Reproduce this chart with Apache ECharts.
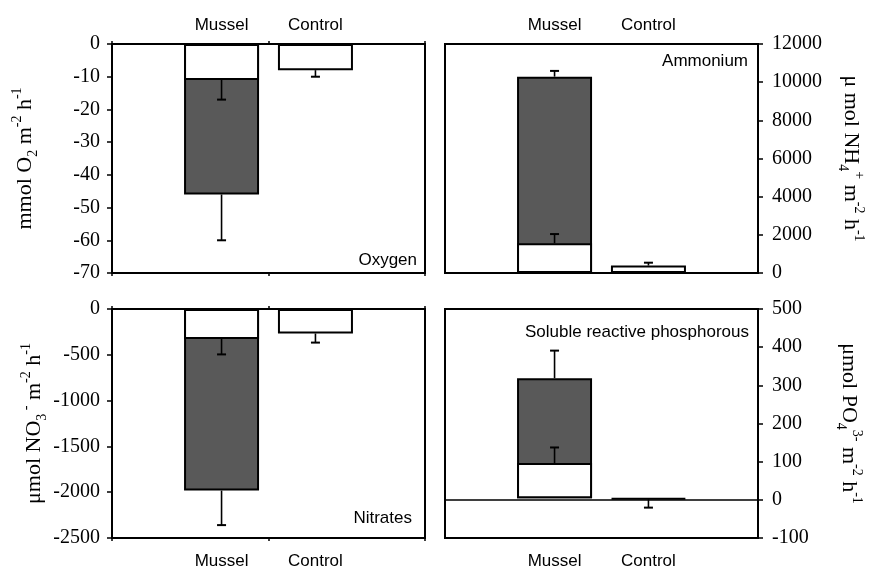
<!DOCTYPE html>
<html><head><meta charset="utf-8">
<script src="https://cdn.jsdelivr.net/npm/echarts@6/dist/echarts.min.js"></script>
<style>html,body{margin:0;padding:0;background:#fff}#c{width:871px;height:570px}</style>
</head><body><div id="c"></div>
<script>
// ---------- data ----------
const categories = ['Mussel', 'Control'];

const oxygenTicks = [-70, -60, -50, -40, -30, -20, -10, 0];
const oxygenWhite = [-11, -8];
const oxygenWhiteErr = [-17, -10];
const oxygenGrey = [-46, null];
const oxygenGreyErr = [-60, null];

const ammoniumTicks = [0, 2000, 4000, 6000, 8000, 10000, 12000];
const ammoniumWhite = [1560, 390];
const ammoniumWhiteErr = [2040, 540];
const ammoniumGrey = [10290, null];
const ammoniumGreyErr = [10590, null];

const nitrateTicks = [-2500, -2000, -1500, -1000, -500, 0];
const nitrateWhite = [-330, -270];
const nitrateWhiteErr = [-500, -370];
const nitrateGrey = [-2000, null];
const nitrateGreyErr = [-2380, null];

const phosphTicks = [-100, 0, 100, 200, 300, 400, 500];
const phosphWhite = [93, -3];
const phosphWhiteErr = [134, -25];
const phosphGrey = [317, null];
const phosphGreyErr = [390, null];

// ---------- layout ----------
const FRAME_W = 313, FRAME_H = 229;
const panels = [
  {white: oxygenWhite, whiteErr: oxygenWhiteErr, grey: oxygenGrey, greyErr: oxygenGreyErr, ticks: oxygenTicks,
   name: 'mmol O{sub|2} m{sup|-2} h{sup|-1}', label: 'Oxygen', left: 112, top: 44, side: 'left', catPos: 'top',
   nameGap: 72, centreTick: true, zeroLine: false, lx: 417, ly: 260, catMargin: 10},
  {white: ammoniumWhite, whiteErr: ammoniumWhiteErr, grey: ammoniumGrey, greyErr: ammoniumGreyErr, ticks: ammoniumTicks,
   name: 'μ mol NH{sub|4}{sup|+} m{sup|-2} h{sup|-1}', label: 'Ammonium', left: 445, top: 44, side: 'right', catPos: 'top',
   nameGap: 78, centreTick: false, zeroLine: false, lx: 748, ly: 61, catMargin: 10},
  {white: nitrateWhite, whiteErr: nitrateWhiteErr, grey: nitrateGrey, greyErr: nitrateGreyErr, ticks: nitrateTicks,
   name: 'μmol NO{sub|3}{sup| -} m{sup|-2} h{sup|-1}', label: 'Nitrates', left: 112, top: 309, side: 'left', catPos: 'bottom',
   nameGap: 63, centreTick: true, zeroLine: false, lx: 412, ly: 518, catMargin: 17},
  {white: phosphWhite, whiteErr: phosphWhiteErr, grey: phosphGrey, greyErr: phosphGreyErr, ticks: phosphTicks,
   name: 'μmol PO{sub|4}{sup|3-} m{sup|-2} h{sup|-1}', label: 'Soluble reactive phosphorous', left: 445, top: 309, side: 'right', catPos: 'bottom',
   nameGap: 76, centreTick: false, zeroLine: true, lx: 749, ly: 332, catMargin: 17}
];

const SERIF = '"Liberation Serif", "Times New Roman", serif';
const SANS = '"Liberation Sans", Arial, sans-serif';

const grid = [], xAxis = [], yAxis = [], series = [], graphic = [];

panels.forEach(p => {
  const min = p.ticks[0], max = p.ticks[p.ticks.length - 1], interval = p.ticks[1] - p.ticks[0];
  // frame grid
  const fg = grid.length;
  grid.push({left: p.left, top: p.top, width: FRAME_W, height: FRAME_H, show: true,
    borderColor: '#000', borderWidth: 2, backgroundColor: 'transparent'});
  yAxis.push({gridIndex: fg, type: 'value', min, max, interval, position: p.side,
    axisLine: {show: false}, splitLine: {show: false},
    axisTick: {show: true, length: 5, lineStyle: {color: '#000', width: 1.5}},
    axisLabel: {color: '#000', fontFamily: SERIF, fontSize: 20, margin: p.side === 'left' ? 12 : 14,
      formatter: v => String(v)},
    name: p.name, nameLocation: 'middle', nameRotate: p.side === 'left' ? 90 : -90, nameGap: p.nameGap,
    nameTextStyle: {color: '#000', fontFamily: SERIF, fontSize: 22, lineHeight: 30,
      rich: {
        sub: {fontFamily: SERIF, fontSize: 14, color: '#000', verticalAlign: 'bottom', lineHeight: 14},
        sup: {fontFamily: SERIF, fontSize: 14, color: '#000', verticalAlign: 'top', lineHeight: 14}
      }}
  });
  xAxis.push({gridIndex: fg, type: 'category', data: categories, position: 'bottom',
    axisLine: {show: p.zeroLine, onZero: p.zeroLine, lineStyle: {color: '#000', width: 1.5}},
    axisTick: {show: p.centreTick, length: 3, lineStyle: {color: '#000', width: 1.5}},
    axisLabel: {show: false}, splitLine: {show: false}});
  if (p.centreTick) {
    xAxis.push({gridIndex: fg, type: 'category', data: categories, position: 'top',
      axisLine: {show: false, onZero: false},
      axisTick: {show: true, length: 3, lineStyle: {color: '#000', width: 1.5}},
      axisLabel: {show: false}, splitLine: {show: false}});
  }
  // bar grid (central 60% of the frame)
  const bg = grid.length;
  grid.push({left: p.left + FRAME_W * 0.2, top: p.top, width: FRAME_W * 0.6, height: FRAME_H, show: false});
  const bx = xAxis.length;
  xAxis.push({gridIndex: bg, type: 'category', data: categories, position: p.catPos,
    axisLine: {show: false, onZero: false}, axisTick: {show: false}, splitLine: {show: false},
    axisLabel: {color: '#000', fontFamily: SANS, fontSize: 17, margin: p.catMargin}});
  const by = yAxis.length;
  yAxis.push({gridIndex: bg, type: 'value', min, max, interval, show: false, splitLine: {show: false}});

  const barBase = {type: 'bar', xAxisIndex: bx, yAxisIndex: by, barWidth: 75, barGap: '-100%',
    animation: false, silent: true};
  series.push(Object.assign({}, barBase, {data: p.grey,
    itemStyle: {color: '#595959', borderColor: '#000', borderWidth: 2}, z: 2}));
  series.push(Object.assign({}, barBase, {data: p.white,
    itemStyle: {color: '#ffffff', borderColor: '#000', borderWidth: 2}, z: 3}));

  const errData = [];
  categories.forEach((c, i) => {
    if (p.white[i] != null && p.whiteErr[i] != null) errData.push([i, p.white[i], p.whiteErr[i]]);
    if (p.grey[i] != null && p.greyErr[i] != null) errData.push([i, p.grey[i], p.greyErr[i]]);
  });
  series.push({type: 'custom', xAxisIndex: bx, yAxisIndex: by, z: 10, animation: false, silent: true,
    data: errData,
    renderItem: (params, api) => {
      const a = api.coord([api.value(0), api.value(1)]);
      const b = api.coord([api.value(0), api.value(2)]);
      return {type: 'group', children: [
        {type: 'line', shape: {x1: a[0], y1: a[1], x2: b[0], y2: b[1]}, style: {stroke: '#000', lineWidth: 1.6}},
        {type: 'line', shape: {x1: b[0] - 4.5, y1: b[1], x2: b[0] + 4.5, y2: b[1]}, style: {stroke: '#000', lineWidth: 2}}
      ]};
    }});

  graphic.push({type: 'text', x: p.lx, y: p.ly, z: 20,
    style: {text: p.label, fill: '#000', font: '17px ' + SANS, textAlign: 'right', textVerticalAlign: 'middle'}});
});

const chart = echarts.init(document.getElementById('c'), null, {renderer: 'canvas'});
chart.setOption({backgroundColor: '#fff', animation: false, grid, xAxis, yAxis, series, graphic});
</script></body></html>
